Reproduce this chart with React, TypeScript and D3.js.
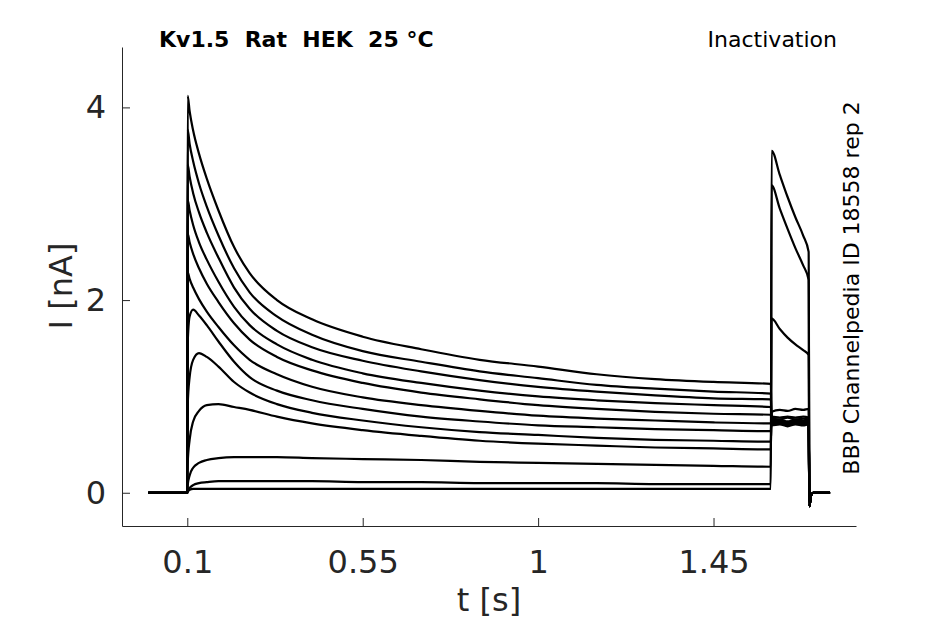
import * as d3 from "d3";
import { useEffect, useRef } from "react";

// sample times [s] shared by all sweeps
const times = [
  0, 0.1, 0.101, 0.106, 0.115, 0.13, 0.15, 0.18, 0.22, 0.26, 0.33, 0.42, 0.55,
  0.7, 0.85, 1.0, 1.15, 1.3, 1.45, 1.597, 1.599, 1.62, 1.64, 1.66, 1.68, 1.694,
  1.696, 1.7, 1.706, 1.749,
];

// currents [nA], one sweep per array
const sweep1 = [0, 0, 4.12, 3.96, 3.76, 3.52, 3.26, 2.93, 2.55, 2.28, 2.0, 1.8, 1.62, 1.49, 1.38, 1.31, 1.23, 1.18, 1.15, 1.13, 0.74, 0.75, 0.73, 0.75, 0.74, 0.75, -0.14, -0.03, 0, 0];
const sweep2 = [0, 0, 3.77, 3.62, 3.44, 3.21, 2.97, 2.67, 2.33, 2.08, 1.83, 1.64, 1.47, 1.36, 1.26, 1.19, 1.12, 1.08, 1.05, 1.03, 0.72, 0.73, 0.71, 0.73, 0.72, 0.73, -0.14, -0.03, 0, 0];
const sweep3 = [0, 0, 3.41, 3.28, 3.11, 2.91, 2.7, 2.44, 2.13, 1.91, 1.68, 1.51, 1.37, 1.26, 1.17, 1.1, 1.05, 1.01, 0.98, 0.97, 0.7, 0.71, 0.69, 0.71, 0.7, 0.71, -0.14, -0.03, 0, 0];
const sweep4 = [0, 0, 3.04, 2.93, 2.78, 2.6, 2.42, 2.19, 1.93, 1.74, 1.54, 1.38, 1.24, 1.14, 1.06, 1.0, 0.96, 0.93, 0.91, 0.89, 0.73, 0.74, 0.72, 0.74, 0.73, 0.74, -0.14, -0.03, 0, 0];
const sweep5 = [0, 0, 2.69, 2.6, 2.48, 2.33, 2.17, 1.98, 1.76, 1.59, 1.41, 1.27, 1.14, 1.04, 0.97, 0.91, 0.87, 0.84, 0.82, 0.81, 0.71, 0.72, 0.7, 0.72, 0.71, 0.72, -0.14, -0.03, 0, 0];
const sweep6 = [0, 0, 2.29, 2.22, 2.13, 2.01, 1.88, 1.72, 1.53, 1.38, 1.23, 1.1, 0.99, 0.91, 0.85, 0.8, 0.77, 0.75, 0.73, 0.72, 0.75, 0.76, 0.74, 0.76, 0.75, 0.76, -0.14, -0.03, 0, 0];
const sweep7 = [0, 0, 1.55, 1.83, 1.9, 1.84, 1.74, 1.57, 1.36, 1.2, 1.06, 0.96, 0.87, 0.79, 0.74, 0.7, 0.68, 0.66, 0.65, 0.64, 0.77, 0.76, 0.78, 0.76, 0.77, 0.76, -0.14, -0.03, 0, 0];
const sweep8 = [0, 0, 0.9, 1.2, 1.38, 1.45, 1.41, 1.31, 1.15, 1.04, 0.92, 0.83, 0.75, 0.68, 0.63, 0.6, 0.57, 0.55, 0.54, 0.53, 0.79, 0.78, 0.79, 0.78, 0.79, 0.78, -0.14, -0.03, 0, 0];
const sweep9 = [0, 0, 0.3, 0.55, 0.74, 0.85, 0.91, 0.92, 0.89, 0.86, 0.79, 0.72, 0.65, 0.59, 0.54, 0.51, 0.49, 0.47, 0.46, 0.45, 0.84, 0.86, 0.85, 0.87, 0.86, 0.87, -0.14, -0.03, 0, 0];
const sweep10 = [0, 0, 0.08, 0.18, 0.26, 0.31, 0.34, 0.36, 0.37, 0.37, 0.37, 0.36, 0.35, 0.34, 0.32, 0.31, 0.3, 0.29, 0.28, 0.27, 1.81, 1.7, 1.61, 1.54, 1.48, 1.43, -0.14, -0.03, 0, 0];
const sweep11 = [0, 0, 0.02, 0.05, 0.08, 0.1, 0.11, 0.12, 0.12, 0.12, 0.12, 0.12, 0.11, 0.11, 0.1, 0.1, 0.1, 0.09, 0.09, 0.09, 3.19, 2.95, 2.74, 2.54, 2.36, 2.21, -0.14, -0.03, 0, 0];
const sweep12 = [0, 0, 0.01, 0.03, 0.04, 0.04, 0.04, 0.04, 0.04, 0.04, 0.04, 0.04, 0.04, 0.04, 0.04, 0.04, 0.04, 0.04, 0.04, 0.04, 3.55, 3.3, 3.07, 2.86, 2.67, 2.5, -0.14, -0.03, 0, 0];

const sweeps = [sweep1, sweep2, sweep3, sweep4, sweep5, sweep6, sweep7, sweep8, sweep9, sweep10, sweep11, sweep12];

const xTicks = [0.1, 0.55, 1, 1.45];
const yTicks = [0, 2, 4];

const title = "Kv1.5  Rat  HEK  25 °C";
const protocol = "Inactivation";
const source = "BBP Channelpedia ID 18558 rep 2";

const W = 945;
const H = 624;
const FONT = "DejaVu Sans";
const INK = "#262626";

export default function App() {
  const svgRef = useRef<SVGSVGElement>(null);

  useEffect(() => {
    const svg = d3.select(svgRef.current);
    svg.selectAll("*").remove();

    const x = d3.scaleLinear().domain([-0.0675, 1.8155]).range([122, 856]);
    const y = d3.scaleLinear().domain([-0.345, 4.627]).range([526, 47]);

    // sweeps
    const line = d3
      .line<number>()
      .x((_, i) => x(times[i]))
      .y((d) => y(d))
      .curve(d3.curveMonotoneX);

    svg
      .append("g")
      .selectAll("path")
      .data(sweeps)
      .join("path")
      .attr("d", (d) => line(d))
      .attr("fill", "none")
      .attr("stroke", "#000")
      .attr("stroke-width", 2.2)
      .attr("stroke-linejoin", "round");

    // x axis, ticks pointing in
    const xAxis = d3
      .axisBottom(x)
      .tickValues(xTicks)
      .tickFormat((d) => `${d}`)
      .tickSizeInner(-8)
      .tickSizeOuter(0)
      .tickPadding(24);
    const gx = svg.append("g").attr("transform", "translate(0,526)").call(xAxis);
    gx.select(".domain").attr("stroke", INK);
    gx.selectAll("line").attr("stroke", INK);
    gx.selectAll("text")
      .attr("fill", INK)
      .attr("font-size", 32)
      .attr("font-family", FONT);

    // y axis
    const yAxis = d3
      .axisLeft(y)
      .tickValues(yTicks)
      .tickFormat((d) => `${d}`)
      .tickSizeInner(-8)
      .tickSizeOuter(0)
      .tickPadding(16);
    const gy = svg.append("g").attr("transform", "translate(122,0)").call(yAxis);
    gy.select(".domain").attr("stroke", INK);
    gy.selectAll("line").attr("stroke", INK);
    gy.selectAll("text")
      .attr("fill", INK)
      .attr("font-size", 32)
      .attr("font-family", FONT);

    // axis labels
    svg
      .append("text")
      .attr("x", 489)
      .attr("y", 611)
      .attr("text-anchor", "middle")
      .attr("font-size", 32)
      .attr("font-family", FONT)
      .attr("fill", INK)
      .text("t [s]");
    svg
      .append("text")
      .attr("transform", "translate(72,286) rotate(-90)")
      .attr("text-anchor", "middle")
      .attr("font-size", 32)
      .attr("font-family", FONT)
      .attr("fill", INK)
      .text("I [nA]");

    // annotations
    svg
      .append("text")
      .attr("x", 159)
      .attr("y", 47)
      .attr("font-size", 22)
      .attr("font-weight", "bold")
      .attr("font-family", FONT)
      .attr("fill", "#000")
      .style("white-space", "pre")
      .text(title);
    svg
      .append("text")
      .attr("x", 837)
      .attr("y", 47)
      .attr("text-anchor", "end")
      .attr("font-size", 22)
      .attr("font-family", FONT)
      .attr("fill", "#000")
      .text(protocol);
    svg
      .append("text")
      .attr("transform", "translate(859,288) rotate(-90)")
      .attr("text-anchor", "middle")
      .attr("font-size", 22)
      .attr("font-family", FONT)
      .attr("fill", "#000")
      .text(source);
  }, []);

  return (
    <svg
      ref={svgRef}
      width={W}
      height={H}
      style={{ position: "absolute", left: 0, top: 0, background: "#fff" }}
    />
  );
}
